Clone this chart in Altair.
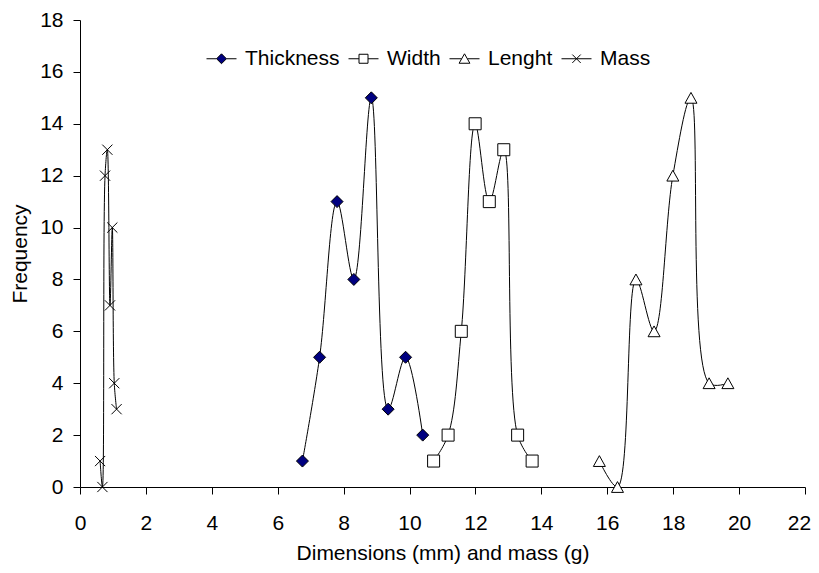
import altair as alt
import pandas as pd

series_names = ["Thickness", "Width", "Lenght", "Mass"]

thickness_x = [6.75, 7.27, 7.80, 8.31, 8.84, 9.35, 9.88, 10.40]
thickness_y = [1, 5, 11, 8, 15, 3, 5, 2]
width_x = [10.73, 11.17, 11.57, 11.99, 12.42, 12.86, 13.28, 13.72]
width_y = [1, 2, 6, 14, 11, 13, 2, 1]
length_x = [15.76, 16.31, 16.87, 17.42, 17.99, 18.54, 19.09, 19.66]
length_y = [1, 0, 8, 6, 12, 15, 4, 4]
mass_x = [0.61, 0.68, 0.76, 0.83, 0.91, 0.98, 1.04, 1.11]
mass_y = [1, 0, 12, 13, 7, 10, 4, 3]

x_ticks = list(range(0, 23, 2))
y_ticks = list(range(0, 19, 2))

rows = []
for name, xs, ys in zip(series_names,
                        [thickness_x, width_x, length_x, mass_x],
                        [thickness_y, width_y, length_y, mass_y]):
    for i, (x, y) in enumerate(zip(xs, ys)):
        rows.append({"series": name, "x": x, "y": y, "idx": i})
df = pd.DataFrame(rows)

marker_paths = [
    "M0,-1L1,0L0,1L-1,0Z",
    "M-1,-1L1,-1L1,1L-1,1Z",
    "M0,-0.9L1,0.9L-1,0.9Z",
    "M-0.85,-0.85L0.85,0.85M-0.85,0.85L0.85,-0.85",
]
marker_fills = ["#000080", "#ffffff", "#ffffff", "transparent"]
marker_strokes = ["#000000", "#000000", "#000000", "#000000"]

legend_paths = [
    "M-1,0L-0.33,0M0.33,0L1,0M0,-0.33L0.33,0L0,0.33L-0.33,0Z",
    "M-1,0L-0.3,0M0.3,0L1,0M-0.3,-0.3L0.3,-0.3L0.3,0.3L-0.3,0.3Z",
    "M-1,0L-0.2,0M0.2,0L1,0M0,-0.33L0.36,0.3L-0.36,0.3Z",
    "M-1,0L1,0M-0.28,-0.28L0.28,0.28M-0.28,0.28L0.28,-0.28",
]

FONT = "Liberation Sans"

legend = alt.Legend(
    orient="none",
    direction="horizontal",
    legendX=126,
    legendY=23,
    title=None,
    labelFont=FONT,
    labelFontSize=21,
    labelColor="black",
    labelOffset=8,
    columnPadding=6,
    symbolSize=900,
    symbolStrokeWidth=1,
    symbolOpacity=1,
    padding=0,
)

x_enc = alt.X(
    "x:Q",
    scale=alt.Scale(domain=[0, 22], nice=False),
    axis=alt.Axis(
        values=x_ticks, title="Dimensions (mm) and mass (g)", grid=False,
        tickSize=7, labelPadding=18, labelFlush=False, labelOverlap=False,
        labelOffset={"condition": {"test": "datum.value >= 22", "value": -6}, "value": 0},
        titleY=72, titleBaseline="alphabetic",
    ),
)
y_enc = alt.Y(
    "y:Q",
    scale=alt.Scale(domain=[0, 18], nice=False),
    axis=alt.Axis(
        values=y_ticks, title="Frequency", grid=False,
        tickSize=7, labelPadding=10, titleX=-54, titleBaseline="alphabetic",
    ),
)

lines = alt.Chart(df).mark_line(
    interpolate="catmull-rom", color="black", strokeWidth=1
).encode(
    x=x_enc, y=y_enc, detail="series:N", order="idx:Q"
)

points = alt.Chart(df).mark_point(
    filled=True, stroke="black", strokeWidth=1, size=144, opacity=1
).encode(
    x=x_enc,
    y=y_enc,
    shape=alt.Shape("series:N", scale=alt.Scale(domain=series_names, range=marker_paths), legend=None),
    fill=alt.Fill("series:N", scale=alt.Scale(domain=series_names, range=marker_fills), legend=None),
)

legend_layer = alt.Chart(df).transform_filter("datum.idx < 0").mark_point(
    filled=True, strokeWidth=1, size=900, opacity=1
).encode(
    x=x_enc,
    y=y_enc,
    shape=alt.Shape("series:N", scale=alt.Scale(domain=series_names, range=legend_paths), legend=legend),
    fill=alt.Fill("series:N", scale=alt.Scale(domain=series_names, range=marker_fills), legend=legend),
    stroke=alt.Stroke("series:N", scale=alt.Scale(domain=series_names, range=marker_strokes), legend=legend),
)

chart = alt.layer(lines, points, legend_layer).resolve_scale(
    shape="independent", fill="independent", stroke="independent"
).properties(
    width=725,
    height=467,
    autosize=alt.AutoSizeParams(type="none"),
    padding={"left": 72, "top": 12, "right": 6, "bottom": 77},
).configure_view(stroke=None).configure_axis(
    labelFont=FONT, titleFont=FONT, labelFontSize=21, titleFontSize=21,
    titleFontWeight="normal", labelColor="black", titleColor="black",
    domainColor="black", tickColor="black", domainWidth=1, tickWidth=1,
)

chart.save("out.html", embed_options={"renderer": "svg", "actions": False})
